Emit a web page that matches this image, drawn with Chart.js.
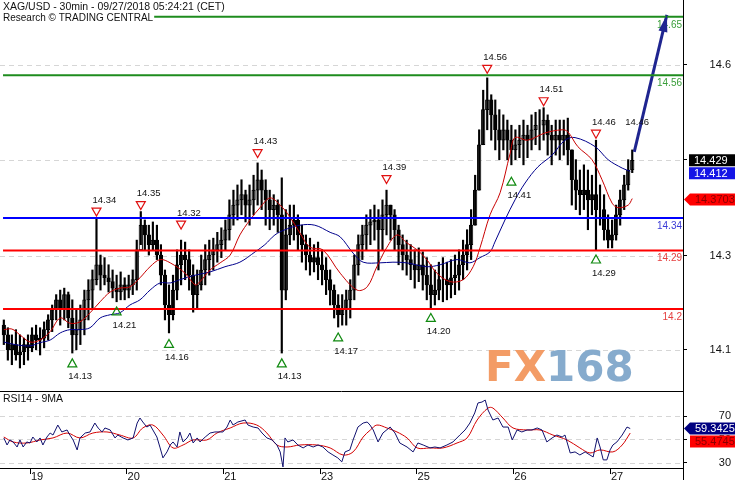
<!DOCTYPE html>
<html><head><meta charset="utf-8">
<script src="https://cdn.jsdelivr.net/npm/chart.js@4/dist/chart.umd.min.js"></script>
<style>
html,body{margin:0;padding:0;background:#fff;}
#wrap{position:relative;width:735px;height:480px;overflow:hidden;background:#fff;}
#c1{position:absolute;left:0;top:0;}
#c2{position:absolute;left:0;top:391px;}
</style></head><body>
<div id="wrap"><canvas id="c1" width="735" height="391"></canvas><canvas id="c2" width="735" height="89"></canvas></div>
<script>
// ---------------- DATA ----------------
const titleLine1 = 'XAG/USD - 30min - 09/27/2018 05:24:21 (CET)';
const titleLine2 = 'Research \u00A9 TRADING CENTRAL';
const rsiTitle = 'RSI14 - 9MA';

const dayTickPos = [7.5, 31.5, 55.5, 79.5, 103.5, 127.5, 151.5];
const dayLabels = ['19', '20', '21', '23', '25', '26', '27'];

const priceTickPos = [14.137, 14.282, 14.430, 14.576];
const priceTickLabels = ['14.1', '14.3', '14.4', '14.6'];
const rsiTicks = [30, 50, 70];

const firstOpen = 14.175;
const highs = [14.183,14.171,14.160,14.168,14.160,14.155,14.160,14.171,14.175,14.171,
14.180,14.191,14.206,14.222,14.229,14.232,14.226,14.214,14.199,14.206,
14.229,14.245,14.260,14.340,14.283,14.279,14.268,14.260,14.252,14.257,
14.248,14.252,14.260,14.306,14.350,14.337,14.329,14.334,14.329,14.299,
14.260,14.237,14.252,14.291,14.306,14.303,14.291,14.268,14.260,14.283,
14.299,14.306,14.309,14.318,14.325,14.337,14.368,14.383,14.391,14.399,
14.383,14.391,14.406,14.425,14.414,14.399,14.383,14.376,14.368,14.402,
14.353,14.360,14.360,14.345,14.329,14.314,14.309,14.299,14.303,14.291,
14.279,14.260,14.237,14.222,14.222,14.229,14.245,14.283,14.314,14.329,
14.345,14.353,14.360,14.353,14.368,14.383,14.360,14.353,14.329,14.314,
14.306,14.299,14.291,14.294,14.288,14.279,14.268,14.260,14.272,14.279,
14.272,14.276,14.283,14.291,14.306,14.322,14.353,14.406,14.476,14.537,
14.556,14.530,14.522,14.507,14.499,14.491,14.483,14.476,14.483,14.491,
14.483,14.499,14.503,14.507,14.510,14.499,14.483,14.491,14.491,14.491,
14.494,14.445,14.430,14.414,14.422,14.414,14.406,14.460,14.391,14.376,
14.345,14.337,14.360,14.383,14.406,14.430,14.445];
const lows = [14.145,14.121,14.114,14.121,14.109,14.114,14.121,14.134,14.137,14.129,
14.140,14.152,14.165,14.183,14.175,14.183,14.171,14.132,14.137,14.145,
14.160,14.183,14.199,14.237,14.229,14.237,14.226,14.217,14.211,14.214,
14.214,14.217,14.222,14.229,14.299,14.291,14.283,14.291,14.276,14.237,
14.183,14.163,14.183,14.214,14.237,14.245,14.229,14.195,14.201,14.229,
14.237,14.252,14.260,14.272,14.279,14.291,14.306,14.329,14.337,14.345,
14.334,14.329,14.345,14.360,14.353,14.329,14.322,14.329,14.318,14.132,
14.214,14.299,14.306,14.291,14.272,14.260,14.252,14.257,14.245,14.237,
14.222,14.206,14.186,14.172,14.175,14.175,14.186,14.214,14.252,14.276,
14.291,14.299,14.306,14.260,14.291,14.314,14.306,14.291,14.268,14.260,
14.252,14.245,14.232,14.242,14.229,14.214,14.201,14.206,14.214,14.211,
14.214,14.217,14.222,14.229,14.245,14.260,14.276,14.329,14.383,14.453,
14.476,14.460,14.445,14.430,14.445,14.430,14.422,14.430,14.433,14.422,
14.433,14.445,14.453,14.445,14.460,14.437,14.422,14.437,14.430,14.437,
14.422,14.360,14.353,14.345,14.353,14.322,14.345,14.291,14.329,14.306,
14.294,14.294,14.306,14.329,14.353,14.383,14.410];
const closes = [14.160,14.137,14.145,14.129,14.134,14.145,14.140,14.160,14.152,14.155,
14.168,14.183,14.199,14.214,14.199,14.222,14.186,14.160,14.168,14.183,
14.214,14.229,14.245,14.268,14.252,14.248,14.242,14.232,14.226,14.237,
14.229,14.237,14.245,14.291,14.329,14.314,14.299,14.306,14.283,14.252,
14.206,14.191,14.229,14.268,14.283,14.276,14.252,14.222,14.237,14.260,
14.276,14.283,14.291,14.299,14.306,14.322,14.345,14.360,14.368,14.376,
14.360,14.368,14.383,14.399,14.383,14.368,14.353,14.360,14.345,14.229,
14.314,14.329,14.337,14.314,14.299,14.283,14.272,14.279,14.268,14.260,
14.245,14.229,14.206,14.191,14.199,14.214,14.229,14.268,14.299,14.314,
14.329,14.334,14.337,14.322,14.345,14.360,14.345,14.322,14.299,14.283,
14.276,14.268,14.260,14.268,14.252,14.237,14.222,14.229,14.245,14.245,
14.237,14.248,14.252,14.268,14.283,14.299,14.329,14.383,14.453,14.507,
14.522,14.499,14.476,14.460,14.476,14.460,14.445,14.453,14.460,14.468,
14.460,14.476,14.483,14.483,14.491,14.468,14.460,14.468,14.460,14.468,
14.445,14.399,14.383,14.376,14.383,14.368,14.376,14.353,14.353,14.322,
14.306,14.314,14.345,14.368,14.391,14.414,14.429];

const maRedIdx = [1,3,5,7.5,10,12.5,15,17.4,19.9,22.4,24.9,27.4,29.8,32.3,34.8,37.3,39.8,42.3,46,48.5,49.7,52.2,54.7,57.2,59.6,62.1,64.6,67.1,69.6,72,74.5,77,80.2,84.5,88.7,91.2,93.6,96.1,98.6,101,103.6,106,108.5,111.8,115,117.5,119.2,121.7,124.2,126.7,127.9,131,135.3,139.6,141,143.5,147,149.5,152,153.5,156,157];
const maRedVal = [14.168,14.169,14.160,14.149,14.152,14.165,14.186,14.178,14.180,14.194,14.211,14.226,14.232,14.234,14.248,14.265,14.276,14.271,14.255,14.237,14.242,14.260,14.271,14.283,14.314,14.337,14.356,14.371,14.360,14.342,14.317,14.295,14.291,14.255,14.229,14.234,14.265,14.295,14.314,14.302,14.291,14.276,14.255,14.242,14.245,14.265,14.294,14.345,14.379,14.440,14.464,14.460,14.471,14.476,14.473,14.450,14.430,14.399,14.363,14.356,14.360,14.370];
const maBlueIdx = [1,3.8,7.5,10,12.5,15,17.4,19.9,22.4,24.9,27.4,29.8,32.3,34.8,37.3,39.8,42.3,44.7,48.5,52.2,55.9,59.6,63.4,65.8,68.3,70.8,74.5,78.2,82,84.5,87.7,90.2,94.4,97.6,101,106,109.3,113.5,116.7,119.2,121.7,122.9,125.4,127.9,130.4,133.6,137.1,140.3,142.8,147.8,151,154.5,156.5];
const maBlueVal = [14.149,14.145,14.143,14.148,14.152,14.163,14.168,14.168,14.171,14.186,14.191,14.194,14.206,14.214,14.229,14.240,14.240,14.245,14.252,14.257,14.265,14.272,14.288,14.299,14.314,14.322,14.329,14.329,14.318,14.311,14.286,14.272,14.271,14.272,14.271,14.265,14.268,14.276,14.271,14.279,14.288,14.303,14.337,14.368,14.394,14.419,14.437,14.460,14.464,14.450,14.430,14.417,14.412];

const levelValues = [14.65, 14.56, 14.34, 14.29, 14.20];
const levelLabels = ['14.65', '14.56', '14.34', '14.29', '14.2'];
const levelKinds = ['green', 'green', 'blue', 'red', 'red'];

const hiIdx = [24, 35, 45, 64, 96, 121, 135, 148];
const hiVals = [14.34, 14.35, 14.32, 14.43, 14.39, 14.56, 14.51, 14.46];
const loIdx = [18, 29, 42, 70, 84, 107, 127, 148];
const loVals = [14.13, 14.21, 14.16, 14.13, 14.17, 14.20, 14.41, 14.29];

const arrowFrom = [157.5, 14.442];
const arrowTo = [165.6, 14.653];
const arrowLabel = '14.46';

const lastPrice = 14.429, lastBlueMA = 14.412, lastRedMA = 14.3703;
const lastRsi = 59.3425, lastRsiMA = 55.4745;

const rsiIdx = [1.0,1.8,2.5,3.3,4.3,5.0,5.8,6.7,7.5,8.2,9.2,10.0,10.7,11.7,12.5,13.2,14.4,15.4,16.7,17.4,18.2,19.2,19.9,21.2,22.4,23.6,24.4,25.4,26.1,27.4,28.6,29.3,30.6,31.8,33.1,34.1,34.8,35.5,36.5,37.3,38.0,39.0,39.8,40.5,41.5,42.3,43.0,44.0,44.7,45.5,46.5,47.2,48.0,49.0,49.7,51.0,52.2,53.4,54.7,55.4,56.4,57.2,57.9,59.1,60.9,61.6,62.9,64.1,65.1,66.3,67.6,68.8,69.6,70.3,70.8,71.5,72.8,74.0,75.3,76.5,77.8,79.0,80.2,81.5,82.7,83.9,84.9,85.7,86.9,87.7,88.9,90.2,91.2,91.9,92.7,93.9,95.1,96.9,98.1,99.3,101.1,102.6,103.8,105.1,106.8,108.0,109.3,111.0,112.5,114.2,115.5,116.7,117.9,118.7,119.7,120.5,121.2,122.4,123.7,124.9,126.2,127.2,128.4,129.6,130.9,132.1,133.4,134.6,135.8,137.1,138.3,139.6,140.3,141.6,142.8,144.0,145.3,146.5,147.3,148.3,149.0,149.8,150.7,151.5,152.2,153.2,154.5,155.7,156.5];
const rsiVal = [51.3,45.3,49.6,47.9,43.6,49.6,43.6,47.9,47.0,52.1,47.9,51.3,45.3,52.1,55.5,53.8,62.3,56.4,58.1,53.8,49.6,41.1,51.3,55.5,56.4,64.0,59.8,56.4,59.8,58.1,51.3,53.8,51.3,49.6,51.3,64.0,68.3,64.9,60.6,62.3,58.1,52.1,42.8,34.3,39.4,45.3,47.9,43.6,56.4,47.9,51.3,55.5,47.0,51.3,47.9,52.1,55.5,56.4,56.4,56.4,60.6,66.6,62.3,64.9,66.6,62.3,60.6,59.8,55.5,51.3,49.6,45.3,39.4,26.6,51.3,47.9,49.6,45.3,42.8,45.3,43.6,45.3,43.6,39.4,36.8,34.3,30.9,39.4,41.1,49.6,60.6,64.0,64.9,62.3,58.1,47.9,55.5,60.6,55.5,47.0,43.6,39.4,47.0,45.3,42.8,43.6,42.8,45.3,47.9,53.8,58.1,64.0,72.6,81.1,81.9,83.6,75.1,66.6,68.3,60.6,60.6,49.6,58.1,56.4,58.1,58.1,59.8,58.1,47.9,51.3,53.8,52.1,53.8,38.5,39.4,36.8,39.4,36.8,35.1,51.3,43.6,32.6,32.6,41.1,45.3,47.9,53.8,60.6,59.3];
const rsiMaIdx = [1.0,3.3,6.7,10.0,13.2,16.7,19.9,23.1,26.6,29.8,33.1,35.5,38.0,40.5,43.0,45.5,48.0,51.4,53.9,57.2,60.4,63.8,66.3,68.8,71.3,74.5,78.7,82.0,85.2,87.7,90.2,92.0,93.6,96.1,98.6,101.1,103.6,106.8,110.0,113.5,116.0,118.5,121.2,122.4,124.9,127.4,130.9,134.1,137.3,140.8,144.0,146.5,149.0,152.2,154.5,156.5];
const rsiMaVal = [52.1,47.9,47.0,49.6,51.3,55.5,51.3,55.5,56.4,53.8,51.3,59.8,62.3,53.8,42.8,45.3,49.6,49.6,55.5,59.8,64.0,62.3,55.5,45.3,43.6,45.3,45.3,42.8,36.8,39.4,52.1,58.1,62.3,59.8,56.4,51.3,42.8,42.8,42.8,47.0,51.3,66.6,76.8,76.8,68.3,59.8,58.1,58.1,53.8,49.6,42.8,38.5,41.1,39.4,45.3,55.5];

// ---------------- STYLE / LAYOUT ----------------
const FONT = "'Liberation Sans', Arial, sans-serif";
const X_MIN = 0.05, X_MAX = 169.6;
const PRICE_MIN = 14.0735, PRICE_MAX = 14.676;
const RSI_MIN = 25.7, RSI_MAX = 91.3;
const LEVEL_STYLE = {
  green: {line: '#1e8c1e', text: '#3a9e3a'},
  blue:  {line: '#0000ff', text: '#3b3bd6'},
  red:   {line: '#ff0000', text: '#e54040'}
};
const AXIS_W = 48;

const pts = (xs, ys) => xs.map((x, i) => ({x: x, y: ys[i]}));
const opens = closes.map((c, i) => i === 0 ? firstOpen : closes[i - 1]);
const wicks = closes.map((c, i) => ({x: i + 1, y: [lows[i], highs[i]]}));
const bodies = closes.map((c, i) => ({x: i + 1, y: [Math.min(opens[i], c), Math.max(opens[i], c)]}));
const bodyFill = closes.map((c, i) => c >= opens[i] ? '#ffffff' : '#000000');

function dashedGrid(chart, scale, values) {
  const ctx = chart.ctx, a = chart.chartArea;
  ctx.save();
  ctx.strokeStyle = '#d6d6d6'; ctx.lineWidth = 1; ctx.setLineDash([5, 4]);
  values.forEach(v => {
    const y = Math.round(scale.getPixelForValue(v)) + 0.5;
    ctx.beginPath(); ctx.moveTo(a.left, y); ctx.lineTo(a.right, y); ctx.stroke();
  });
  ctx.restore();
}

function valueBox(ctx, left, cy, text, bg, fg, arrow) {
  const h = 12, right = 735;
  ctx.save();
  ctx.fillStyle = bg;
  ctx.beginPath();
  if (arrow) {
    ctx.moveTo(left - 6, cy); ctx.lineTo(left, cy - h / 2); ctx.lineTo(right, cy - h / 2);
    ctx.lineTo(right, cy + h / 2); ctx.lineTo(left, cy + h / 2); ctx.closePath();
  } else {
    ctx.rect(left, cy - h / 2, right - left, h);
  }
  ctx.fill();
  ctx.fillStyle = fg; ctx.font = '11px ' + FONT; ctx.textBaseline = 'middle'; ctx.textAlign = 'left';
  ctx.fillText(text, left + 5, cy + 0.5);
  ctx.restore();
}

const mainDecor = {
  id: 'mainDecor',
  beforeDatasetsDraw(chart) {
    const y = chart.scales.y, a = chart.chartArea, ctx = chart.ctx;
    dashedGrid(chart, y, priceTickPos);
    // watermark
    ctx.save();
    ctx.font = 'bold 42px ' + "'DejaVu Sans', sans-serif";
    ctx.textBaseline = 'alphabetic'; ctx.textAlign = 'left';
    const wx = a.right - 198, wy = a.bottom - 10;
    ctx.fillStyle = '#f39c66';
    ctx.fillText('FX', wx, wy);
    const w = ctx.measureText('FX').width;
    ctx.fillStyle = '#86abcd';
    ctx.fillText('168', wx + w, wy);
    ctx.restore();
  },
  afterDatasetsDraw(chart) {
    const xs = chart.scales.x, ys = chart.scales.y, a = chart.chartArea, ctx = chart.ctx;
    ctx.save();
    // level labels
    ctx.font = '10px ' + FONT; ctx.textAlign = 'right'; ctx.textBaseline = 'middle';
    levelValues.forEach((v, i) => {
      ctx.fillStyle = LEVEL_STYLE[levelKinds[i]].text;
      ctx.fillText(levelLabels[i], a.right - 1, ys.getPixelForValue(v) + 8);
    });
    // markers
    ctx.lineWidth = 1.2;
    ctx.font = '9.5px ' + FONT; ctx.textAlign = 'left';
    hiIdx.forEach((ix, i) => {
      const cx = xs.getPixelForValue(ix), cy = ys.getPixelForValue(hiVals[i]) - 6;
      ctx.strokeStyle = '#e01010';
      ctx.beginPath(); ctx.moveTo(cx - 4.5, cy - 4); ctx.lineTo(cx + 4.5, cy - 4); ctx.lineTo(cx, cy + 4); ctx.closePath(); ctx.stroke();
      ctx.fillStyle = '#111';
      ctx.fillText(hiVals[i].toFixed(2), cx - 4, cy - 12);
    });
    loIdx.forEach((ix, i) => {
      const cx = xs.getPixelForValue(ix), cy = ys.getPixelForValue(loVals[i]) + 8.5;
      ctx.strokeStyle = '#108a10';
      ctx.beginPath(); ctx.moveTo(cx - 4.5, cy + 4); ctx.lineTo(cx + 4.5, cy + 4); ctx.lineTo(cx, cy - 4); ctx.closePath(); ctx.stroke();
      ctx.fillStyle = '#111';
      ctx.fillText(loVals[i].toFixed(2), cx - 4, cy + 14);
    });
    // arrow head + label
    const x0 = xs.getPixelForValue(arrowFrom[0]), y0 = ys.getPixelForValue(arrowFrom[1]);
    const x1 = xs.getPixelForValue(arrowTo[0]), y1 = ys.getPixelForValue(arrowTo[1]);
    const dx = x1 - x0, dy = y1 - y0, L = Math.hypot(dx, dy), ux = dx / L, uy = dy / L;
    const bx = x1 - ux * 17, by = y1 - uy * 17;
    ctx.fillStyle = '#1f2590';
    ctx.beginPath(); ctx.moveTo(x1, y1); ctx.lineTo(bx - uy * 4.5, by + ux * 4.5); ctx.lineTo(bx + uy * 4.5, by - ux * 4.5); ctx.closePath(); ctx.fill();
    ctx.fillStyle = '#111'; ctx.textBaseline = 'middle';
    ctx.fillText(arrowLabel, x0 - 9, y0 - 29);
    ctx.restore();
  },
  afterDraw(chart) {
    const ctx = chart.ctx, a = chart.chartArea, ys = chart.scales.y;
    ctx.save();
    ctx.textBaseline = 'alphabetic'; ctx.textAlign = 'left';
    ctx.font = '10px ' + FONT;
    const w2 = ctx.measureText(titleLine2).width;
    ctx.fillStyle = '#fff'; ctx.fillRect(0, 11, w2 + 4, 11);
    ctx.fillStyle = '#111';
    ctx.fillText(titleLine2, 3, 21);
    ctx.font = '10.5px ' + FONT;
    ctx.fillText(titleLine1, 3, 10);
    ctx.restore();
    const left = a.right + 6;
    const pB = ys.getPixelForValue(lastPrice);
    const pBl = Math.max(ys.getPixelForValue(lastBlueMA), pB + 13);
    const pR = ys.getPixelForValue(lastRedMA) + 1;
    valueBox(ctx, left, pB, lastPrice.toFixed(3), '#000000', '#ffffff', false);
    valueBox(ctx, left, pBl, lastBlueMA.toFixed(3), '#1515e6', '#ffffff', false);
    valueBox(ctx, left + 1, pR, lastRedMA.toFixed(4), '#ff0000', '#8a0000', true);
  }
};

const rsiDecor = {
  id: 'rsiDecor',
  beforeDatasetsDraw(chart) { dashedGrid(chart, chart.scales.y, rsiTicks); },
  afterDraw(chart) {
    const ctx = chart.ctx, a = chart.chartArea, ys = chart.scales.y;
    ctx.save();
    ctx.strokeStyle = '#000'; ctx.lineWidth = 1;
    ctx.beginPath(); ctx.moveTo(0, 0.5); ctx.lineTo(a.right, 0.5); ctx.stroke();
    ctx.beginPath(); ctx.moveTo(a.right + 0.5, 0); ctx.lineTo(a.right + 0.5, chart.height); ctx.stroke();
    ctx.fillStyle = '#111'; ctx.font = '10.5px ' + FONT; ctx.textBaseline = 'alphabetic';
    ctx.fillText(rsiTitle, 3, 11);
    ctx.restore();
    const left = a.right + 7;
    const p1 = ys.getPixelForValue(lastRsi);
    const p2 = Math.max(ys.getPixelForValue(lastRsiMA), p1 + 13);
    valueBox(ctx, left, p1, lastRsi.toFixed(4), '#000080', '#ffffff', true);
    valueBox(ctx, left, p2, lastRsiMA.toFixed(4), '#ff0000', '#8a0000', false);
  }
};

function rightAxis(min, max, tickVals, labelFn) {
  return {
    position: 'right', min: min, max: max,
    afterBuildTicks: s => { s.ticks = tickVals.map(v => ({value: v})); },
    ticks: {callback: labelFn, crossAlign: 'far', autoSkip: false, color: '#111', font: {family: FONT, size: 11}, padding: 2},
    grid: {drawOnChartArea: false, drawTicks: true, tickLength: 4, color: '#000'},
    border: {display: true, color: '#000', width: 1},
    afterFit: s => { s.width = AXIS_W; s.paddingTop = 0; s.paddingBottom = 0; }
  };
}

Chart.defaults.font.family = FONT;

new Chart(document.getElementById('c1'), {
  type: 'bar',
  data: {datasets: [
    ...levelValues.map((v, i) => ({type: 'line', label: 'level ' + levelLabels[i], data: [{x: 0.8, y: v}, {x: X_MAX, y: v}],
      borderColor: LEVEL_STYLE[levelKinds[i]].line, borderWidth: 2, pointRadius: 0, order: 0})),
    {type: 'line', label: 'target', data: [{x: arrowFrom[0], y: arrowFrom[1]}, {x: arrowTo[0], y: arrowTo[1]}],
      borderColor: '#1f2590', borderWidth: 3, pointRadius: 0, order: 0},
    {type: 'line', label: 'MA fast', data: pts(maRedIdx, maRedVal), borderColor: '#c80000', borderWidth: 1, pointRadius: 0, tension: 0.35, order: 1},
    {type: 'line', label: 'MA slow', data: pts(maBlueIdx, maBlueVal), borderColor: '#00008c', borderWidth: 1, pointRadius: 0, tension: 0.35, order: 1},
    {type: 'bar', label: 'range', data: wicks, backgroundColor: '#000', borderWidth: 0, barThickness: 1.5, grouped: false, order: 2},
    {type: 'bar', label: 'body', data: bodies, backgroundColor: bodyFill, borderColor: '#000', borderWidth: 1, borderSkipped: false, barThickness: 3.6, grouped: false, order: 3}
  ]},
  options: {
    responsive: false, animation: false, devicePixelRatio: 1,
    layout: {padding: {left: 0, right: 4, top: 0, bottom: 0}},
    plugins: {legend: {display: false}, tooltip: {enabled: false}, title: {display: false}},
    scales: {
      x: {type: 'linear', min: X_MIN, max: X_MAX, display: false, offset: false},
      y: rightAxis(PRICE_MIN, PRICE_MAX, priceTickPos, (v, i) => priceTickLabels[i])
    }
  },
  plugins: [mainDecor]
});

new Chart(document.getElementById('c2'), {
  type: 'line',
  data: {datasets: [
    {label: 'RSI MA', data: pts(rsiMaIdx, rsiMaVal), borderColor: '#d40000', borderWidth: 1, pointRadius: 0, tension: 0.35, order: 1},
    {label: 'RSI14', data: pts(rsiIdx, rsiVal), borderColor: '#10106e', borderWidth: 1, pointRadius: 0, tension: 0, order: 0}
  ]},
  options: {
    responsive: false, animation: false, devicePixelRatio: 1,
    layout: {padding: {left: 0, right: 4, top: 0, bottom: 0}},
    plugins: {legend: {display: false}, tooltip: {enabled: false}},
    scales: {
      x: {
        type: 'linear', min: X_MIN, max: X_MAX, position: 'bottom', offset: false,
        afterBuildTicks: s => { s.ticks = dayTickPos.map(v => ({value: v})); },
        ticks: {callback: (v, i) => dayLabels[i], autoSkip: false, maxRotation: 0, labelOffset: 7, padding: -4, color: '#111', font: {family: FONT, size: 11}},
        grid: {drawOnChartArea: false, drawTicks: true, tickLength: 6, color: '#000'},
        border: {display: true, color: '#000', width: 1},
        afterFit: s => { s.height = 12; s.paddingLeft = 0; s.paddingRight = 0; }
      },
      y: rightAxis(RSI_MIN, RSI_MAX, rsiTicks, v => String(v))
    }
  },
  plugins: [rsiDecor]
});
</script>
</body></html>
